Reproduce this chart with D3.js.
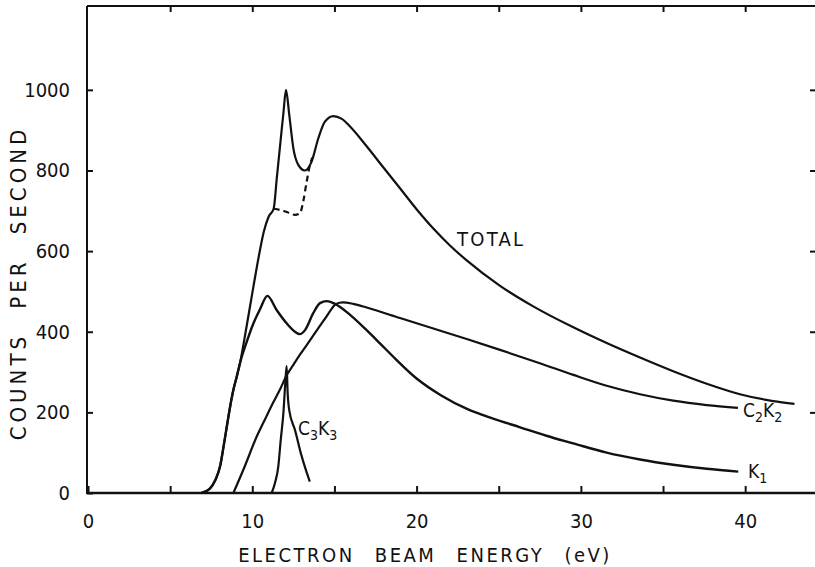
<!DOCTYPE html>
<html lang="en">
<head>
<meta charset="utf-8">
<title>electron beam energy</title>
<script src="https://d3js.org/d3.v7.min.js"></script>
<style>
  body{margin:0;background:#fff;}
  svg text{font-family:"DejaVu Sans Condensed","DejaVu Sans",sans-serif;fill:#111;}
</style>
</head>
<body>
<div id="chart"></div>
<script>
// values: [energy eV, counts per second]
var totalCurve = [[6.9,0],[7.4,10],[7.75,32],[8.05,68],[8.25,115],[8.45,165],[8.65,214],[8.85,256],[9.05,288],[9.25,322],
  [9.66,415],[10.06,510],[10.4,588],[10.7,648],[11.0,686],[11.3,705],[11.5,785],[11.7,865],[11.9,945],[12.05,1000],
  [12.25,938],[12.5,855],[12.8,814],[13.2,800],[13.61,822],[14.02,880],[14.42,921],[14.93,935],[15.45,928],[15.95,909],
  [16.96,860],[17.97,808],[18.99,756],[20.0,704],[21.02,656],[22.03,614],[23.05,577],[25.08,514],[27.1,463],[29.54,411],
  [31.57,372],[33.6,336],[35.62,302],[37.66,271],[39.68,245],[41.71,228],[43.0,221]]

var dashedCurve = [[11.3,705],[11.7,702],[12.1,697],[12.6,690],[12.9,694],[13.1,723],[13.3,770],[13.5,812],[13.65,832]]

var c2k2Curve = [[8.85,0],[9.5,62],[10.27,140],[10.8,185],[11.28,225],[11.7,258],[12.09,292],[12.5,318],[12.9,343],
  [13.5,378],[14.0,408],[14.5,437],[14.85,458],[15.03,467],[15.3,472],[15.54,473],[16.15,469],[16.96,460],[18.99,434],
  [21.02,408],[23.05,382],[25.08,355],[27.5,322],[29.54,293],[31.57,266],[33.6,245],[35.62,229],[37.66,218],[39.56,211]]

var k1Curve = [[6.9,0],[7.4,10],[7.75,32],[8.05,68],[8.25,115],[8.45,165],[8.65,214],[8.85,256],[9.05,288],[9.25,322],
  [9.66,375],[10.06,420],[10.47,456],[10.92,489],[11.48,454],[12.09,421],[12.6,400],[12.9,394],[13.21,404],[13.71,446],
  [14.12,471],[14.53,476],[15.03,469],[15.95,442],[16.96,404],[17.8,370],[18.58,338],[20.0,284],[21.5,242],[23.1,208],
  [24.7,184],[26.3,163],[27.9,142],[29.54,123],[31.57,100],[33.6,83],[35.62,70],[37.66,60],[39.58,53]]

var c3k3Curve = [[11.18,0],[11.38,25],[11.58,65],[11.73,131],[11.89,197],[12.02,280],[12.09,315],[12.15,250],
  [12.25,205],[12.6,156],[13.0,92],[13.5,28]]

var xTicks = [0,5,10,15,20,25,30,35,40]
var yTicks = [0,200,400,600,800,1000]

var w = 815, h = 567
var svg = d3.select("#chart").append("svg").attr("width",w).attr("height",h)

var xScale = d3.scaleLinear().domain([0,44.25]).range([88,815])
var yScale = d3.scaleLinear().domain([0,1208]).range([493,6])

// bottom axis, ticks pointing inward
var xAxis = d3.axisBottom(xScale).tickValues(xTicks).tickSize(-7).tickPadding(21)
  .tickFormat(function(d){ return d%10===0 ? d : "" })
var gx = svg.append("g").attr("transform","translate(0,493)").call(xAxis)

var yAxis = d3.axisLeft(yScale).tickValues(yTicks).tickSize(-6).tickPadding(17).tickFormat(d3.format("d"))
var gy = svg.append("g").attr("transform","translate(87,0)").call(yAxis)

// top and right inner ticks, no labels
var gt = svg.append("g").attr("transform","translate(0,6)")
  .call(d3.axisTop(xScale).tickValues(xTicks.slice(1)).tickSize(-6).tickFormat(""))
var gr = svg.append("g").attr("transform","translate(815,0)")
  .call(d3.axisRight(yScale).tickValues(yTicks.slice(1)).tickSize(-5).tickFormat(""))

svg.selectAll(".domain").remove()
svg.selectAll(".tick line").attr("stroke","#111").attr("stroke-width",2)
svg.selectAll(".tick text").attr("font-size",20).attr("fill","#111")

// frame lines
svg.append("line").attr("x1",87).attr("x2",815).attr("y1",493).attr("y2",493).attr("stroke","#111").attr("stroke-width",2.4)
svg.append("line").attr("x1",87).attr("x2",87).attr("y1",6).attr("y2",494).attr("stroke","#111").attr("stroke-width",2)
svg.append("line").attr("x1",87).attr("x2",815).attr("y1",6).attr("y2",6).attr("stroke","#111").attr("stroke-width",2)

var line = d3.line()
  .x(function(d){ return xScale(d[0]) })
  .y(function(d){ return yScale(d[1]) })
  .curve(d3.curveMonotoneX)

function drawCurve(data,width,dash){
  svg.append("path").datum(data)
    .attr("d",line)
    .attr("fill","none")
    .attr("stroke","#111")
    .attr("stroke-width",width)
    .attr("stroke-linejoin","round")
    .attr("stroke-dasharray",dash)
}
drawCurve(totalCurve,2.2,null)
drawCurve(k1Curve,2.4,null)
drawCurve(c2k2Curve,2.2,null)
drawCurve(c3k3Curve,2.2,null)
drawCurve(dashedCurve,2.2,"6,4")

// curve labels
svg.append("text").attr("x",457).attr("y",246).attr("font-size",20)
  .attr("textLength",66).attr("lengthAdjust","spacing").text("TOTAL")

function subLabel(x,y,parts){
  var t = svg.append("text").attr("x",x).attr("y",y).attr("font-size",19)
  parts.forEach(function(p,i){
    t.append("tspan").text(p)
      .attr("font-size", i%2 ? 14 : 19)
      .attr("dy", i===0 ? 0 : (i%2 ? 5 : -5))
  })
}
subLabel(743,417,["C","2","K","2"])
subLabel(748,478,["K","1"])
subLabel(298,435,["C","3","K","3"])

// axis titles
svg.append("text").attr("x",425).attr("y",562).attr("font-size",20)
  .attr("text-anchor","middle")
  .attr("letter-spacing",2.5).attr("word-spacing",12)
  .text("ELECTRON BEAM ENERGY (eV)")

svg.append("text").attr("transform","translate(26,283) rotate(-90)").attr("font-size",22)
  .attr("text-anchor","middle")
  .attr("letter-spacing",4).attr("word-spacing",14)
  .text("COUNTS PER SECOND")
</script>
</body>
</html>
